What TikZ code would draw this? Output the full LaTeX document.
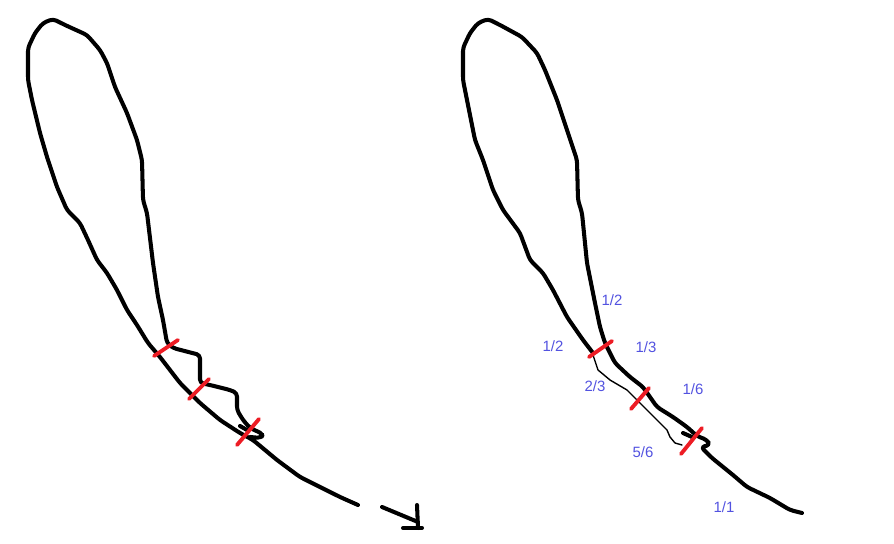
\documentclass[tikz,border=0pt]{standalone}
\usepackage{fontspec}
\setmainfont{Liberation Sans}
\usepackage{xcolor}
\definecolor{paintred}{RGB}{237,28,36}
\definecolor{fracblue}{RGB}{82,82,224}
\usetikzlibrary{positioning}

\begin{document}
\begin{tikzpicture}[x=0.02cm, y=-0.02cm,
			stroke/.style={draw=black, line width=2.3pt, line join=round, line cap=round, rounded corners=2pt},
			thinstroke/.style={draw=black, line width=0.8pt, line join=round, line cap=round},
			cut/.style={draw=paintred, line width=2.2pt, line cap=round},
			frac/.style={text=fracblue, font=\fontsize{8.5}{10}\selectfont, inner sep=0pt}
			]
			\useasboundingbox (0,0) rectangle (894,544);
			
			% Boucle de gauche, avec le detour
			\draw[stroke] (358,505) -- (340,497) -- (320,487) -- (300,477) -- (277,460) -- (253,440)
				-- (240,433) -- (220,420) -- (200,403) -- (180,383) -- (160,357) -- (148,343)
				-- (137,325) -- (127,310) -- (117,290) -- (107,273) -- (97,260) -- (88,240)
				-- (80,223) -- (67,210) -- (57,187) -- (47,157) -- (40,133) -- (32,100)
				-- (28,80) -- (28,48) -- (35,33) -- (43,23) -- (53,19) -- (65,25) -- (87,35)
				-- (100,50) -- (107,63) -- (115,87) -- (127,113) -- (137,140) -- (142,160)
				-- (143,200) -- (147,213) -- (153,263) -- (158,297) -- (163,320) -- (167,343)
				-- (173,348) -- (200,355) -- (200,383) -- (210,385) -- (230,390) -- (237,393)
				-- (237,410) -- (243,420) -- (250,428) -- (263,434) -- (261,438) -- (250,437);
			\draw[stroke] (240,426) -- (247,430);
			
			% Coupures (gauche)
			\draw[cut] (154,356) -- (178,340);
			\draw[cut] (189,399) -- (209,379);
			\draw[cut] (237,445) -- (259,419);
			
			% Fleche
			\coordinate (from) at (382,507);
			\coordinate (to) at (418,522);
			\draw[stroke] (from) -- (to);
			\draw[stroke] (417,505) -- (418,528);
			\draw[stroke] (403,528) -- (422,528);
			
			% Boucle de droite
			\draw[stroke] (593,353) -- (583,340) -- (567,317) -- (553,290) -- (543,273) -- (530,260)
				-- (520,233) -- (503,210) -- (493,190) -- (483,160) -- (475,140) -- (467,100)
				-- (463,80) -- (463,48) -- (470,33) -- (478,23) -- (488,19) -- (500,25)
				-- (522,37) -- (537,53) -- (545,70) -- (557,100) -- (567,130) -- (577,160)
				-- (578,200) -- (582,213) -- (587,263) -- (595,303) -- (600,327) -- (605,343)
				-- (615,363) -- (630,377) -- (643,387) -- (657,407) -- (673,417) -- (687,427)
				-- (697,436) -- (707,440) -- (710,445) -- (701,447) -- (712,458)
				-- (733,475) -- (747,487) -- (770,498) -- (790,510) -- (802,513);
			\draw[stroke] (683,433) -- (692,437);
			\draw[thinstroke] (593,355) -- (598,370) -- (610,380) -- (627,390) -- (632,395)
				-- (647,410) -- (660,423) -- (667,430) -- (670,437) -- (675,443) -- (682,445);
			
			% Coupures (droite)
			\draw[cut] (589,357) -- (612,341);
			\draw[cut] (631,409) -- (649,388);
			\draw[cut] (681,454) -- (702,428);
			
			% Fractions
			\node[frac] (hautG) at (612,300) {1/2};
			\node[frac] (basG) at (553,346) {1/2};
			\node[frac] (tiers) at (646,347) {1/3};
			\node[frac] (deuxtiers) at (595,386) {2/3};
			\node[frac] (sixieme) at (693,389) {1/6};
			\node[frac] (cinqsix) at (643,452) {5/6};
			\node[frac] (entier) at (724,507) {1/1};
			
		\end{tikzpicture}
\end{document}
